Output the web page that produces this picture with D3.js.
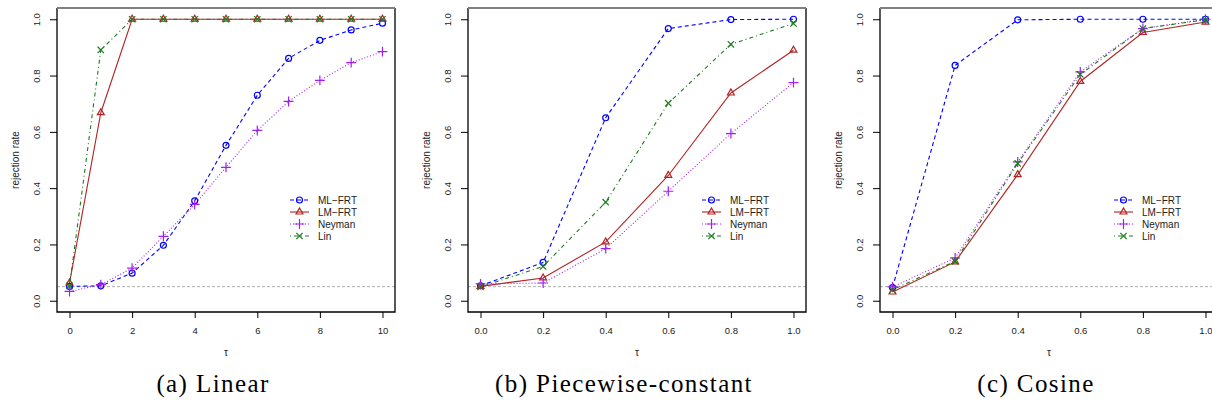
<!DOCTYPE html>
<html>
<head>
<meta charset="utf-8">
<script src="https://cdn.jsdelivr.net/npm/d3@7"></script>
<style>
  body { margin: 0; background: #fff; }
  svg { display: block; }
  .tick-label { font-family: "Liberation Sans", Arial, sans-serif; font-size: 9.5px; fill: #222; }
  .axis-title { font-family: "Liberation Sans", Arial, sans-serif; font-size: 10px; fill: #222; }
  .legend-text { font-family: "Liberation Sans", Arial, sans-serif; font-size: 10px; fill: #222; }
  .caption { font-family: "Liberation Serif", serif; font-size: 25px; letter-spacing: 1.4px; fill: #000; }
</style>
</head>
<body>
<svg id="chart" width="1212" height="412"></svg>
<script>
// x values of each panel
var tauLinear = [0, 1, 2, 3, 4, 5, 6, 7, 8, 9, 10];
var tauUnit = [0, 0.2, 0.4, 0.6, 0.8, 1.0];

var xTicksLinear = [0, 2, 4, 6, 8, 10];
var xTicksUnit = [0, 0.2, 0.4, 0.6, 0.8, 1.0];
var yTicks = [0, 0.2, 0.4, 0.6, 0.8, 1.0];

var methods = ['ML\u2212FRT', 'LM\u2212FRT', 'Neyman', 'Lin'];
var captions = ['(a) Linear', '(b) Piecewise-constant', '(c) Cosine'];
var nominalLevel = 0.05;

// (a) linear
var linearMl = [0.051, 0.053, 0.098, 0.197, 0.355, 0.552, 0.730, 0.861, 0.925, 0.962, 0.986];
var linearLm = [0.063, 0.668, 1, 1, 1, 1, 1, 1, 1, 1, 1];
var linearNeyman = [0.033, 0.057, 0.116, 0.229, 0.342, 0.474, 0.605, 0.708, 0.783, 0.846, 0.885];
var linearLin = [0.053, 0.891, 1, 1, 1, 1, 1, 1, 1, 1, 1];

// (b) piecewise-constant
var pieceMl = [0.053, 0.136, 0.650, 0.967, 0.999, 1.0];
var pieceLm = [0.051, 0.081, 0.209, 0.445, 0.738, 0.890];
var pieceNeyman = [0.060, 0.063, 0.185, 0.389, 0.594, 0.775];
var pieceLin = [0.049, 0.122, 0.350, 0.702, 0.911, 0.985];

// (c) cosine
var cosineMl = [0.047, 0.836, 0.998, 1.0, 1.0, 1.0];
var cosineLm = [0.031, 0.138, 0.448, 0.779, 0.953, 0.990];
var cosineNeyman = [0.049, 0.152, 0.493, 0.813, 0.967, 1.0];
var cosineLin = [0.039, 0.140, 0.488, 0.804, 0.967, 0.998];

var styles = [
  { color: '#0000ff', dash: '4,3', symbol: d3.symbolCircle, size: 28 },
  { color: '#b22222', dash: null, symbol: d3.symbolTriangle2, size: 34 },
  { color: '#a020f0', dash: '1,2', symbol: d3.symbolPlus, size: 34 },
  { color: '#1c7a1c', dash: '1,3,4,3', symbol: d3.symbolTimes, size: 28 }
];

var panels = [
  { left: 57, x: tauLinear, xTicks: xTicksLinear, fmt: d3.format('d'),
    series: [linearMl, linearLm, linearNeyman, linearLin], legend: [290, 318] },
  { left: 468, x: tauUnit, xTicks: xTicksUnit, fmt: d3.format('.1f'),
    series: [pieceMl, pieceLm, pieceNeyman, pieceLin], legend: [702, 730] },
  { left: 880, x: tauUnit, xTicks: xTicksUnit, fmt: d3.format('.1f'),
    series: [cosineMl, cosineLm, cosineNeyman, cosineLin], legend: [1114, 1142] }
];

var boxW = 338, boxTop = 8, boxBottom = 312;
var svg = d3.select('#chart');

// R pads each axis range by 4 % on both sides
function padded(ext) {
  var d = (ext[1] - ext[0]) * 0.04;
  return [ext[0] - d, ext[1] + d];
}

function drawPanel(p, idx) {
  var g = svg.append('g').attr('class', 'panel');
  var x = d3.scaleLinear().domain(padded(d3.extent(p.x))).range([p.left, p.left + boxW]);
  var y = d3.scaleLinear().domain(padded([0, 1])).range([boxBottom, boxTop]);

  // reference line at nominal level
  g.append('line')
    .attr('x1', p.left).attr('x2', p.left + boxW)
    .attr('y1', y(nominalLevel)).attr('y2', y(nominalLevel))
    .attr('stroke', '#b0b0b0').attr('stroke-width', 1)
    .attr('stroke-dasharray', '3,2');

  var line = d3.line()
    .x(function (d, i) { return x(p.x[i]); })
    .y(function (d) { return y(d); });

  p.series.forEach(function (vals, k) {
    var st = styles[k];
    g.append('path')
      .attr('d', line(vals))
      .attr('fill', 'none')
      .attr('stroke', st.color)
      .attr('stroke-width', 1.1)
      .attr('stroke-dasharray', st.dash);
    g.selectAll('path.pt' + k)
      .data(vals)
      .enter()
      .append('path')
      .attr('class', 'pt' + k)
      .attr('transform', function (d, i) { return 'translate(' + x(p.x[i]) + ',' + y(d) + ')'; })
      .attr('d', d3.symbol().type(st.symbol).size(st.size))
      .attr('fill', 'none')
      .attr('stroke', st.color)
      .attr('stroke-width', 1.2);
  });

  // box: top edge is grey in the original
  g.append('path')
    .attr('d', 'M' + p.left + ',' + boxTop + 'V' + boxBottom + 'H' + (p.left + boxW) + 'V' + boxTop)
    .attr('fill', 'none').attr('stroke', '#000').attr('stroke-width', 1.3);
  g.append('line')
    .attr('x1', p.left).attr('x2', p.left + boxW)
    .attr('y1', boxTop).attr('y2', boxTop)
    .attr('stroke', '#808080').attr('stroke-width', 2);

  // axes
  var yAxis = d3.axisLeft(y).tickValues(yTicks).tickSize(7).tickPadding(3).tickFormat(d3.format('.1f'));
  var ya = g.append('g').attr('transform', 'translate(' + p.left + ',0)').call(yAxis);
  ya.select('.domain').remove();
  ya.selectAll('text')
    .attr('class', 'tick-label')
    .attr('font-family', null).attr('font-size', null)
    .attr('x', null).attr('dy', null)
    .attr('text-anchor', 'middle')
    .attr('transform', 'translate(-17,0) rotate(-90)');

  var xAxis = d3.axisBottom(x).tickValues(p.xTicks).tickSize(6).tickPadding(9).tickFormat(p.fmt);
  var xa = g.append('g').attr('transform', 'translate(0,' + boxBottom + ')').call(xAxis);
  xa.select('.domain').remove();
  xa.selectAll('text').attr('class', 'tick-label').attr('font-family', null).attr('font-size', null);

  g.append('text')
    .attr('class', 'axis-title')
    .attr('text-anchor', 'middle')
    .attr('transform', 'translate(' + (p.left - 42) + ',' + ((boxTop + boxBottom) / 2) + ') rotate(-90)')
    .attr('dy', '0.35em')
    .text('rejection rate');
  g.append('text')
    .attr('class', 'axis-title')
    .attr('text-anchor', 'middle')
    .attr('x', (x.range()[0] + x.range()[1]) / 2)
    .attr('y', 356)
    .text('\u03c4');

  // legend
  var lg = g.append('g').attr('class', 'legend');
  methods.forEach(function (m, k) {
    var st = styles[k];
    var ly = 200 + k * 12;
    lg.append('line')
      .attr('x1', p.legend[0]).attr('x2', p.legend[0] + 19)
      .attr('y1', ly).attr('y2', ly)
      .attr('stroke', st.color).attr('stroke-width', 1.1)
      .attr('stroke-dasharray', st.dash);
    lg.append('path')
      .attr('transform', 'translate(' + (p.legend[0] + 9.5) + ',' + ly + ')')
      .attr('d', d3.symbol().type(st.symbol).size(st.size))
      .attr('fill', 'none').attr('stroke', st.color).attr('stroke-width', 1.2);
    lg.append('text')
      .attr('class', 'legend-text')
      .attr('x', p.legend[1]).attr('y', ly)
      .attr('dy', '0.35em')
      .text(m);
  });

  svg.append('text')
    .attr('class', 'caption')
    .attr('text-anchor', 'middle')
    .attr('x', p.left + 156)
    .attr('y', 392)
    .text(captions[idx]);
}

panels.forEach(drawPanel);
</script>
</body>
</html>
